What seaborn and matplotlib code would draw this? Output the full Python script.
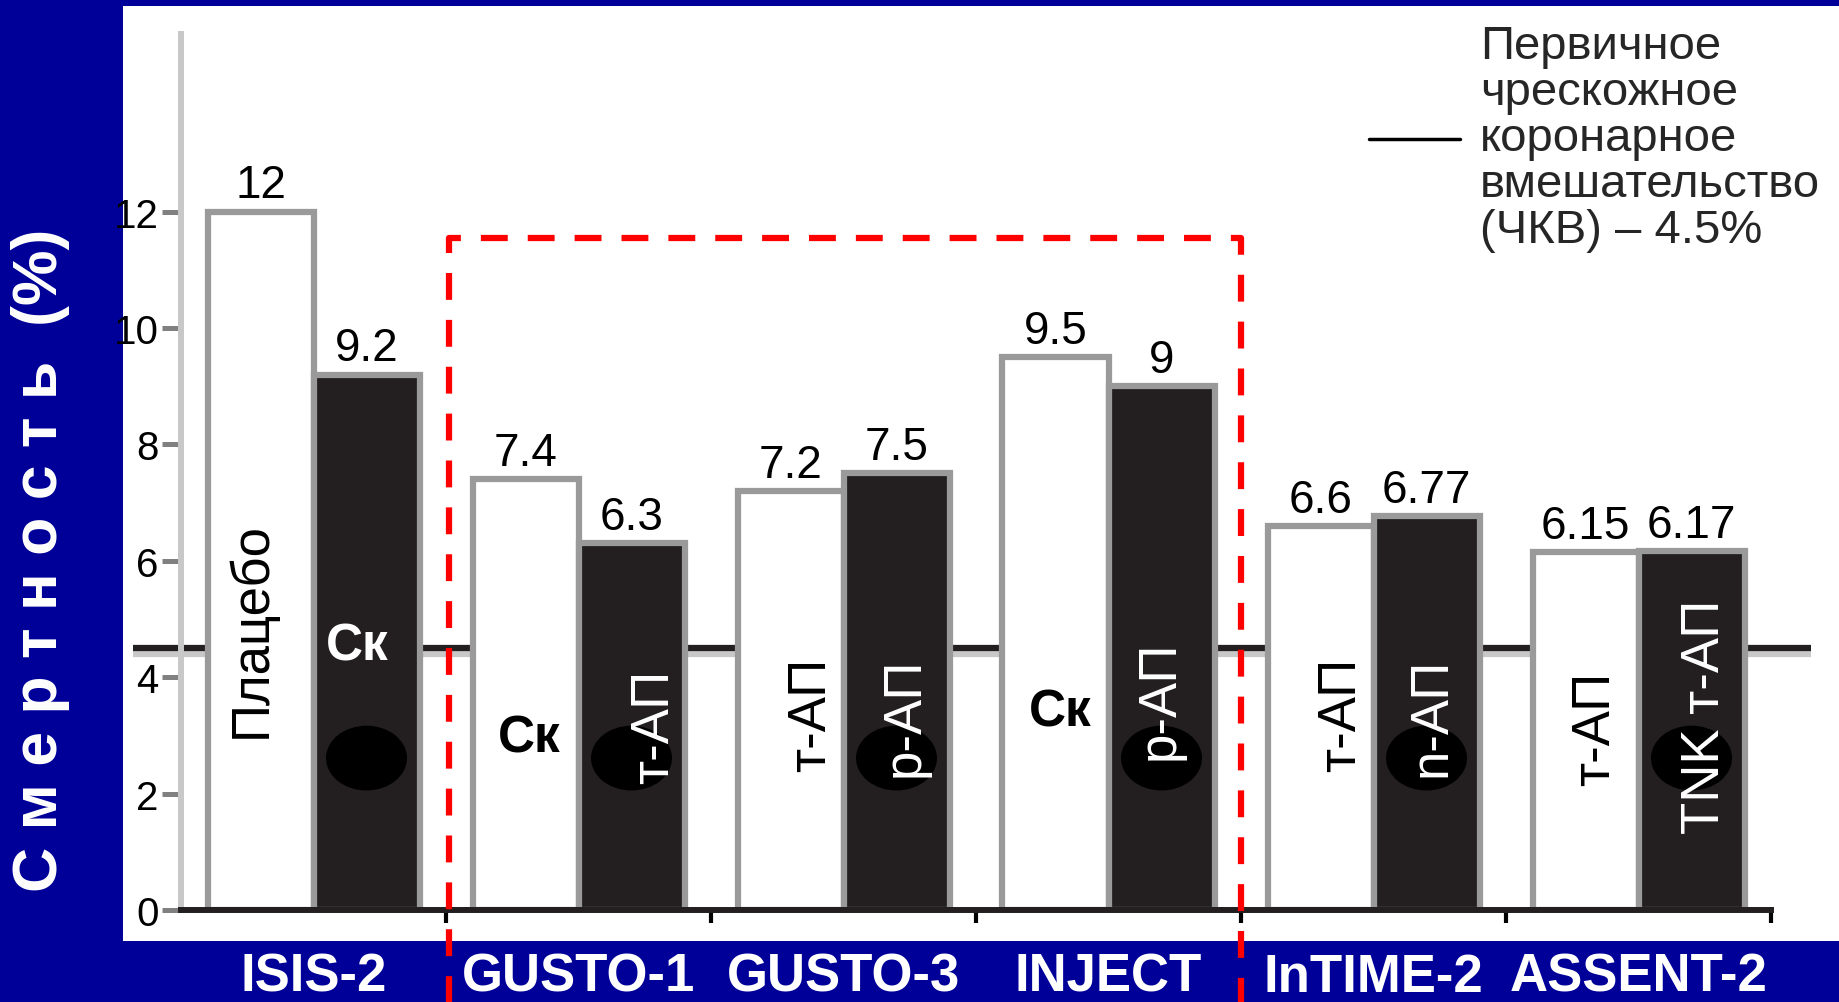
import numpy as np
import pandas as pd
import matplotlib
matplotlib.use("Agg")
import matplotlib.pyplot as plt
from matplotlib.lines import Line2D
from matplotlib.patches import Rectangle
from matplotlib.path import Path
from matplotlib.transforms import Affine2D
import seaborn as sns

# data
trials = ["ISIS-2", "GUSTO-1", "GUSTO-3", "INJECT", "InTIME-2", "ASSENT-2"]
first_arm = [12, 7.4, 7.2, 9.5, 6.6, 6.15]
second_arm = [9.2, 6.3, 7.5, 9.0, 6.77, 6.17]
first_text = ["12", "7.4", "7.2", "9.5", "6.6", "6.15"]
second_text = ["9.2", "6.3", "7.5", "9", "6.77", "6.17"]
first_drug = ["Плацебо", "Ск", "т-АП", "Ск", "т-АП", "т-АП"]
second_drug = ["Ск", "т-АП", "р-АП", "р-АП", "n-АП", "TNK т-АП"]
pci_level = 4.5
pci_label = "Первичное\nчрескожное\nкоронарное\nвмешательство\n(ЧКВ) – 4.5%"
y_title = "С м е р т н о с т ь  (%)"

# where the drug names sit inside the bars (offset from bar centre, height)
first_drug_dx = [-0.045, 0.015, 0.064, 0.019, 0.064, 0.023]
second_drug_dx = [-0.034, 0.072, 0.019, -0.019, 0.008, 0.038]
first_drug_y = [4.83, 2.96, 3.36, 3.40, 3.36, 3.12]
second_drug_y = [4.53, 3.16, 3.33, 3.62, 3.33, 3.33]

navy = "#000099"
dark = "#231f20"

sns.set_theme(style="white")
plt.rcParams["font.family"] = ["Liberation Sans", "DejaVu Sans"]

df = pd.DataFrame({
    "trial": trials * 2,
    "arm": ["a"] * len(trials) + ["b"] * len(trials),
    "mortality": first_arm + second_arm,
})

W, H = 1839, 1003
fig = plt.figure(figsize=(W / 100, H / 100), dpi=100, facecolor=navy)
fig.patches.append(Rectangle((123 / W, 1 - 942 / H), 1 - 123 / W, (942 - 7) / H,
                             transform=fig.transFigure, facecolor="white",
                             edgecolor="none", zorder=-1))
ax = fig.add_axes([181 / W, 1 - 911 / H, (1771 - 181) / W, (911 - 35) / H])
ax.set_facecolor("white")

sns.barplot(data=df, x="trial", y="mortality", hue="arm", order=trials,
            palette=["white", dark], saturation=1, edgecolor="#9a9a9a",
            linewidth=4.5, width=0.8, errorbar=None, legend=False, ax=ax, zorder=2)

ax.set_xlim(-0.5, len(trials) - 0.5)
ax.set_ylim(0, 15.05)

# PCI reference line with its grey shadow
xs = [-0.68, len(trials) - 0.35]
ax.plot(xs, [pci_level - 0.11] * 2, color="#c8c8c8", lw=4.5, zorder=1,
        clip_on=False, solid_capstyle="butt")
ax.plot(xs, [pci_level] * 2, color=dark, lw=4.5, zorder=1.1,
        clip_on=False, solid_capstyle="butt")

white_bars, black_bars = ax.containers[0], ax.containers[1]
ax.bar_label(white_bars, labels=first_text, padding=3, fontsize=33, color="black")
ax.bar_label(black_bars, labels=second_text, padding=3, fontsize=33, color="black")

# pill blobs on the dark bars
blob = Path(Affine2D().scale(1.25, 1.0).transform(Path.unit_circle().vertices),
            Path.unit_circle().codes)
centers = [b.get_x() + b.get_width() / 2 for b in black_bars]
ax.scatter(centers, [2.61] * len(centers), s=3400, marker=blob, color="black",
           edgecolor="none", zorder=3)

for bars, names, dxs, ys, col in [
        (white_bars, first_drug, first_drug_dx, first_drug_y, "black"),
        (black_bars, second_drug, second_drug_dx, second_drug_y, "white")]:
    for bar, name, dx, y in zip(bars, names, dxs, ys):
        cx = bar.get_x() + bar.get_width() / 2 + dx
        if name == "Ск":
            ax.text(cx, y, name, ha="center", va="center", color=col,
                    fontsize=37, fontweight="bold", zorder=4)
        else:
            ax.text(cx + 0.012, y, name, ha="center", va="center", rotation=90,
                    color=col, fontsize=38, zorder=4)

# red dashed frame around the GUSTO/INJECT block
ax.plot([0.51, 0.51, 3.5, 3.5], [-1.6, 11.55, 11.55, -1.6], color="#ff0000",
        lw=4.5, linestyle=(0, (4.3, 3.2)), clip_on=False, zorder=5)

# axes styling
for side in ["top", "right"]:
    ax.spines[side].set_visible(False)
ax.spines["left"].set_color("#c8c8c8")
ax.spines["left"].set_linewidth(4.3)
ax.spines["bottom"].set_color(dark)
ax.spines["bottom"].set_linewidth(4.3)

ax.set_yticks(range(0, 13, 2))
ax.tick_params(axis="y", which="major", direction="out", left=True, length=14,
               width=3.6, color="#808080", labelsize=29, pad=2, labelcolor="black")

ax.set_xticks(np.arange(len(trials)) + 0.5, labels=[""] * len(trials))
ax.set_xticks(np.arange(len(trials)), labels=trials, minor=True)
ax.tick_params(axis="x", which="major", direction="out", bottom=True, length=9,
               width=3, color="black")
ax.tick_params(axis="x", which="minor", bottom=True, length=0, pad=30,
               labelsize=38, labelcolor="white")
for t in ax.get_xticklabels(minor=True):
    t.set_fontweight("bold")
ax.set_xlabel("")

ax.set_ylabel(y_title, color="white", fontsize=45, fontweight="bold")
ax.yaxis.label.set_va("center")
ax.yaxis.set_label_coords(41 / W, 1 - 560 / H, transform=fig.transFigure)

handle = Line2D([], [], color="black", lw=2.5)
leg = ax.legend([handle], [pci_label], loc="upper left",
                bbox_to_anchor=(1369 / W, 1 - 25 / H), bbox_transform=fig.transFigure,
                frameon=False, fontsize=34, handlelength=1.93, handletextpad=0.42,
                borderpad=0, borderaxespad=0)
for t in leg.get_texts():
    t.set_linespacing(1.06)

fig.savefig("out.png", dpi=100, facecolor=navy)
